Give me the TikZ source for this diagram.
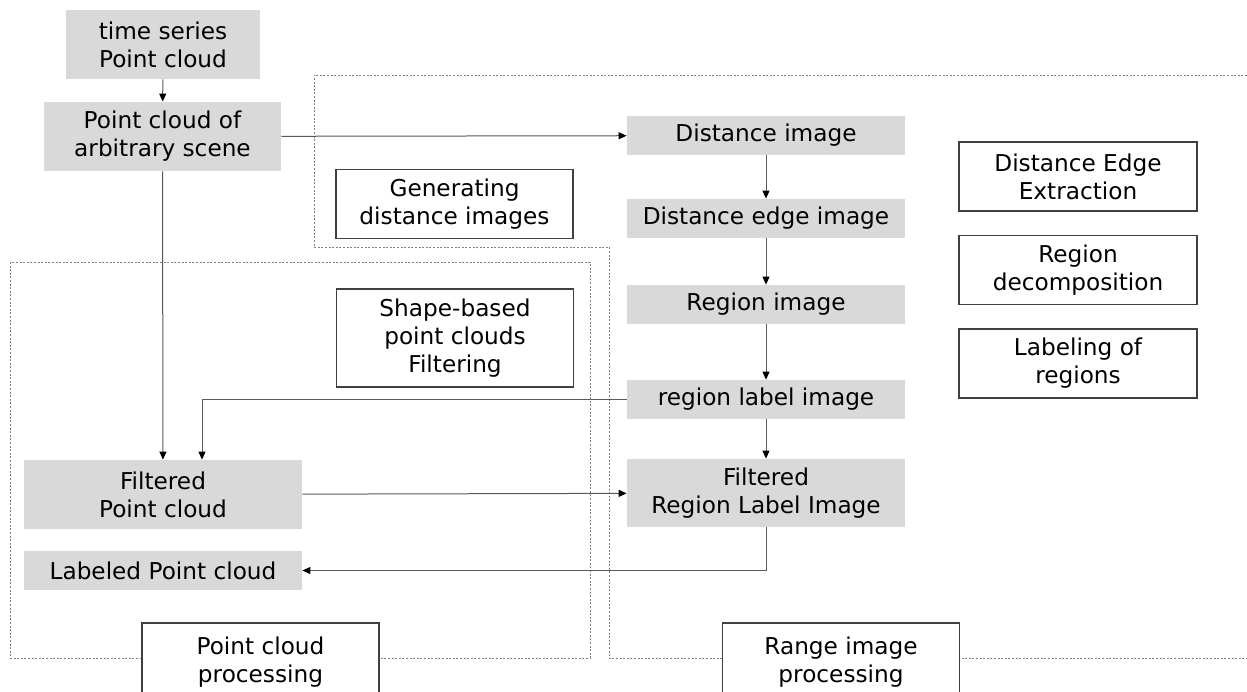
\documentclass[tikz,border=0pt]{standalone}
\usepackage{fontspec}
\setmainfont{DejaVu Sans}
\usetikzlibrary{arrows.meta}
\definecolor{boxgray}{HTML}{D9D9D9}
\definecolor{linegray}{HTML}{5A5A5A}
\tikzstyle{graybox} = [fill=boxgray, draw=none, rectangle, align=center, inner sep=0pt, font=\fontsize{11.6}{14}\selectfont]
\tikzstyle{stepname} = [fill=white, draw=black!75, line width=0.7pt, rectangle, align=center, inner sep=0pt, minimum width=118.5pt, minimum height=34.5pt, font=\fontsize{11.6}{14}\selectfont]
\tikzstyle{flow} = [draw=linegray, line width=0.5pt, -{Triangle[length=4pt,width=3.5pt,color=black]}]
\tikzstyle{area} = [draw=black!50, line width=0.5pt, dash pattern=on 1pt off 0.8pt]

\begin{document}
\begin{tikzpicture}[x=0.5pt, y=-0.5pt]
\clip (0,0) rectangle (1247,691);
\fill[white] (0,0) rectangle (1247,691);

% processing areas
\draw[area] (10,262) rectangle (590,658);
\draw[area] (1247,75) -- (314,75) -- (314,247) -- (609,247) -- (609,658) -- (1247,658);

% point cloud side
\node[graybox, minimum width=97pt, minimum height=34.5pt] (ts) at (163,44.5) {time series\\Point cloud};
\node[graybox, minimum width=118.5pt, minimum height=34.5pt] (scene) at (162.5,136.5) {Point cloud of\\arbitrary scene};
\node[graybox, minimum width=139pt, minimum height=34.5pt] (fpc) at (163,494.5) {Filtered\\Point cloud};
\node[graybox, minimum width=139pt, minimum height=19.5pt] (lpc) at (163,570.5) {Labeled Point cloud};

% range image side
\node[graybox, minimum width=139pt, minimum height=19.5pt] (dist) at (766,135.5) {Distance image};
\node[graybox, minimum width=139pt, minimum height=19.5pt] (edge) at (766,218.5) {Distance edge image};
\node[graybox, minimum width=139pt, minimum height=19.5pt] (region) at (766,304.5) {Region image};
\node[graybox, minimum width=139pt, minimum height=19.5pt] (rlabel) at (766,399.5) {region label image};
\node[graybox, minimum width=139pt, minimum height=34pt] (frl) at (766,493) {Filtered\\Region Label Image};

% step names
\node[stepname] (gen) at (454.5,204) {Generating\\distance images};
\node[stepname, minimum height=49pt] (shape) at (455,338) {Shape-based\\point clouds\\Filtering};
\node[stepname, minimum width=119pt] (dee) at (1078,176.5) {Distance Edge\\Extraction};
\node[stepname, minimum width=119pt] (rdec) at (1078,270) {Region\\decomposition};
\node[stepname, minimum width=119pt] (lreg) at (1078,363.5) {Labeling of\\regions};
\node[stepname, minimum height=39pt] (pcp) at (260.5,662) {Point cloud\\processing};
\node[stepname, minimum height=39pt] (rip) at (841,662) {Range image\\processing};

% connectors
\draw[flow] (ts) -- (scene);
\draw[flow] (scene) -- (dist);
\draw[flow] (scene) -- (fpc);
\draw[flow] (dist) -- (edge);
\draw[flow] (edge) -- (region);
\draw[flow] (region) -- (rlabel);
\draw[flow] (rlabel) -- (frl);
\draw[flow] (rlabel.west) -| ([xshift=19.5pt]fpc.north);
\draw[flow] (fpc) -- (frl);
\draw[flow] (frl.south) |- (lpc.east);
\end{tikzpicture}
\end{document}
